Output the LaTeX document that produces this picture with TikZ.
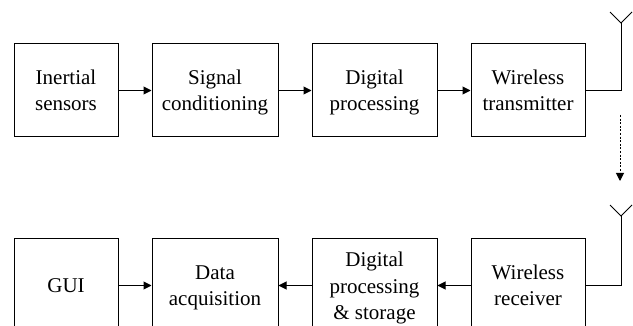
\documentclass[tikz,border=0pt]{standalone}
\usepackage{fontspec}
\setmainfont{Liberation Serif}
\usetikzlibrary{arrows.meta}
\newcommand{\mystrut}{\rule[-6pt]{0pt}{26pt}}
\newcommand{\tallstrut}{\rule[-4.5pt]{0pt}{25pt}}
\begin{document}
\begin{tikzpicture}[x=1pt,y=-1pt,
  blk/.style={draw, line width=1pt, inner sep=0pt, align=center, minimum height=93pt,
    font=\fontsize{21}{26}\selectfont},
  arr/.style={line width=1pt, -{Triangle[length=8pt,width=8pt]}},
  wire/.style={line width=1pt},
  dotarr/.style={line width=1pt, dash pattern=on 2pt off 1.6pt, -{Triangle[length=8pt,width=8pt]}}]
\useasboundingbox (0,0) rectangle (633,326);
% top row
\node[blk, minimum width=104pt] (b1) at (66,90.5) {\mystrut Inertial\\\mystrut sensors};
\node[blk, minimum width=126pt] (b2) at (215,90.5) {\mystrut Signal\\\mystrut conditioning};
\node[blk, minimum width=125pt] (b3) at (374.5,90.5) {\mystrut Digital\\\mystrut processing};
\node[blk, minimum width=114pt] (b4) at (528,90.5) {\mystrut Wireless\\\mystrut transmitter};
\draw[arr] (b1) -- (b2);
\draw[arr] (b2) -- (b3);
\draw[arr] (b3) -- (b4);
% top antenna
\coordinate (ta) at (621,23);
\coordinate (tal) at (610,12);
\coordinate (tar) at (632,12);
\draw[wire] (b4.east) -| (ta);
\draw[wire] (tal) -- (ta) -- (tar);
% dashed link
\coordinate (ds) at (620,115);
\coordinate (de) at (620,181);
\draw[dotarr] (ds) -- (de);
% bottom row
\node[blk, minimum width=104pt] (c1) at (66,285.5) {\mystrut GUI};
\node[blk, minimum width=126pt] (c2) at (215,285.5) {\mystrut Data\\\mystrut acquisition};
\node[blk, minimum width=125pt, font=\fontsize{21}{26.5}\selectfont] (c3) at (374.5,285.5)
  {\tallstrut Digital\\\tallstrut processing\\\tallstrut \& storage};
\node[blk, minimum width=114pt] (c4) at (528,285.5) {\mystrut Wireless\\\mystrut receiver};
\draw[arr] (c1) -- (c2);
\draw[arr] (c3) -- (c2);
\draw[arr] (c4) -- (c3);
% bottom antenna
\coordinate (ba) at (621,216);
\coordinate (bal) at (610,205);
\coordinate (bar) at (632,205);
\draw[wire] (c4.east) -| (ba);
\draw[wire] (bal) -- (ba) -- (bar);
\end{tikzpicture}
\end{document}
